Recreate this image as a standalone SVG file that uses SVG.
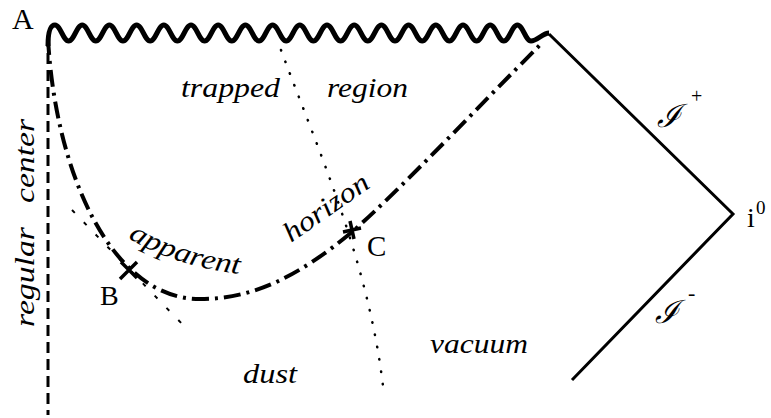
<svg xmlns="http://www.w3.org/2000/svg" width="771" height="418" viewBox="0 0 771 418">
<style>
.ln{fill:none;stroke:#000;}
text{fill:#000;font-family:"Liberation Serif","Times New Roman",serif;}
.it{font-style:italic;font-size:28px;}
.scri{font-family:"DejaVu Serif",serif;font-style:italic;font-size:32px;}
</style>
<rect width="771" height="418" fill="#fff"/>
<g id="connectors">
  <path id="singularity" class="ln" stroke-width="5" stroke-linejoin="round" d="M48,46 C48,32 50,25 55,25 c5.4,0 8.2,16 13.6,16 s8.2,-16 13.6,-16 s8.2,16 13.6,16 s8.2,-16 13.6,-16 s8.2,16 13.6,16 s8.2,-16 13.6,-16 s8.2,16 13.6,16 s8.2,-16 13.6,-16 s8.2,16 13.6,16 s8.2,-16 13.6,-16 s8.2,16 13.6,16 s8.2,-16 13.6,-16 s8.2,16 13.6,16 s8.2,-16 13.6,-16 s8.2,16 13.6,16 s8.2,-16 13.6,-16 s8.2,16 13.6,16 s8.2,-16 13.6,-16 s8.2,16 13.6,16 s8.2,-16 13.6,-16 s8.2,16 13.6,16 s8.2,-16 13.6,-16 s8.2,16 13.6,16 s8.2,-16 13.6,-16 s8.2,16 13.6,16 s8.2,-16 13.6,-16 s8.2,16 13.6,16 s8.2,-16 13.6,-16 s8.2,16 13.6,16 s8.2,-16 13.6,-16 s8.2,16 13.6,16 s8.2,-16 13.6,-16 s8.2,16 13.6,16 s8.2,-16 13.6,-16 s8.2,16 13.6,16 C537,41 543,33 549,33"/>
  <line id="regular-center" class="ln" x1="48" y1="36" x2="48" y2="415" stroke-width="3" stroke-dasharray="11 6"/>
  <path id="apparent-horizon" class="ln" stroke-width="4" stroke-dasharray="17 6 3 6" d="M48,38 C55,170 110,299 200,299 C255,299 300,275 352,232 C400,190 480,105 540,45"/>
  <path id="event-horizon" class="ln" stroke-width="2.5" stroke-linecap="round" stroke-dasharray="0.5 12" d="M281,50 C318,150 368,260 383,386"/>
  <line id="tangent-B" class="ln" x1="72" y1="210" x2="185" y2="327" stroke-width="2" stroke-dasharray="4 13"/>
  <path id="scri" class="ln" stroke-width="3" d="M549,34 L733,214 L572,380"/>
  <path id="cross-B" class="ln" stroke-width="3.5" d="M120,279 L137,262 M121,262 L137,278"/>
  <path id="cross-C" class="ln" stroke-width="3.5" d="M343,232 L361,228 M350,221 L354,239"/>
</g>
<g id="label-A"><text x="12" y="29" font-size="30">A</text></g>
<g id="label-B"><text x="100" y="305" font-size="28">B</text></g>
<g id="label-C"><text x="367" y="256" font-size="29">C</text></g>
<g id="label-i0"><text x="747" y="227" font-size="28">i</text><text x="756" y="214" font-size="19">0</text></g>
<g id="label-scri-plus"><text class="scri" x="657" y="127">ℐ</text><text x="691" y="103" font-size="20">+</text></g>
<g id="label-scri-minus"><text class="scri" x="655" y="323">ℐ</text><text x="688" y="300" font-size="22">-</text></g>
<g id="label-trapped"><text class="it" x="181" y="97" textLength="99" lengthAdjust="spacingAndGlyphs">trapped</text></g>
<g id="label-region"><text class="it" x="327" y="97" textLength="81" lengthAdjust="spacingAndGlyphs">region</text></g>
<g id="label-dust"><text class="it" x="243" y="383" textLength="54" lengthAdjust="spacingAndGlyphs">dust</text></g>
<g id="label-vacuum"><text class="it" x="430" y="353" textLength="98" lengthAdjust="spacingAndGlyphs">vacuum</text></g>
<g id="label-regular"><text class="it" transform="translate(34,327) rotate(-90)" textLength="100" lengthAdjust="spacingAndGlyphs">regular</text></g>
<g id="label-center"><text class="it" transform="translate(34,203) rotate(-90)" textLength="84" lengthAdjust="spacingAndGlyphs">center</text></g>
<g id="label-apparent">
  <defs><path id="appPath" d="M128,238 Q178,268 248,275"/></defs>
  <text class="it"><textPath href="#appPath" textLength="118" lengthAdjust="spacingAndGlyphs">apparent</textPath></text>
</g>
<g id="label-horizon"><text class="it" transform="translate(291,243) rotate(-35)" textLength="98" lengthAdjust="spacingAndGlyphs">horizon</text></g>
</svg>
